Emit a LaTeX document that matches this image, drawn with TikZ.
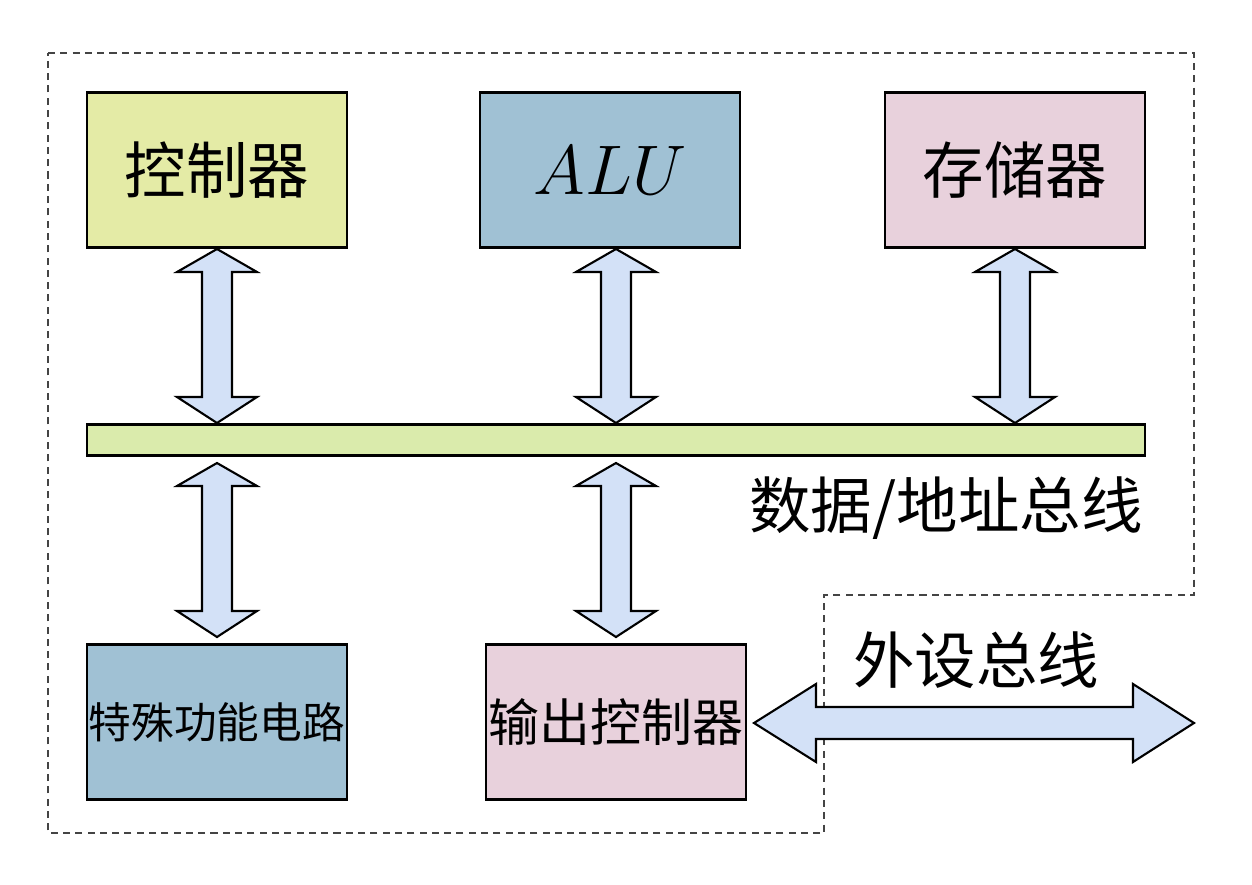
\RequirePackage{fix-cm}
\documentclass[tikz,border=0pt]{standalone}
\usepackage{fontspec}
\newfontfamily\cjk{Noto Sans CJK SC}
\usetikzlibrary{calc}
\definecolor{cyel}{HTML}{E4EBA6}
\definecolor{cblu}{HTML}{A0C1D4}
\definecolor{cpnk}{HTML}{E8D1DC}
\definecolor{cbar}{HTML}{DAEBAC}
\definecolor{carr}{HTML}{D3E1F7}
\definecolor{cdash}{HTML}{444444}
\tikzset{
  unitbox/.style={draw=black, line width=1.2pt, minimum width=260*0.02cm, minimum height=155*0.02cm, inner sep=0pt, font=\cjk},
  busarrow/.style={draw=black, line width=1.2pt, fill=carr, line join=miter},
  outline/.style={draw=cdash, dashed, dash pattern=on 4pt off 3pt, line width=0.8pt},
}
% vertical double arrow: x, ytop, ybottom
\newcommand\myvarrow[3]{%
  \draw[busarrow] (#1,#2) -- (#1+40,#2+23) -- (#1+15,#2+23) -- (#1+15,#3-26) -- (#1+40,#3-26)
    -- (#1,#3) -- (#1-40,#3-26) -- (#1-15,#3-26) -- (#1-15,#2+23) -- (#1-40,#2+23) -- cycle;}
\begin{document}
\begin{tikzpicture}[x=0.02cm,y=-0.02cm]
\useasboundingbox (0,0) rectangle (1252,885);
\draw[outline] (48,53) -- (1194,53) -- (1194,595) -- (824,595) -- (824,833) -- (48,833) -- cycle;

\node[unitbox, fill=cyel, font=\cjk\fontsize{35}{40}\selectfont] (ctrl) at (217,170) {控制器};
\node[unitbox, fill=cblu, font=\fontsize{40}{46}\selectfont] (alu) at (610,170) {$ALU$};
\node[unitbox, fill=cpnk, font=\cjk\fontsize{35}{40}\selectfont] (mem) at (1015,170) {存储器};
\node[draw=black, line width=1.2pt, fill=cbar, minimum width=1058*0.02cm, minimum height=31*0.02cm, inner sep=0pt] (bus) at (616,440) {};
\node[unitbox, fill=cblu, font=\cjk\fontsize{24.3}{30}\selectfont] (spec) at (217,722) {特殊功能电路};
\node[unitbox, fill=cpnk, font=\cjk\fontsize{29}{34}\selectfont] (io) at (616,722) {输出控制器};

\node[font=\cjk\fontsize{35}{40}\selectfont, inner sep=0pt] (buslbl) at (946,508) {数据/地址总线};
\node[font=\cjk\fontsize{35}{40}\selectfont, inner sep=0pt] (extlbl) at (976,660) {外设总线};

\myvarrow{217}{249}{423}
\myvarrow{616}{249}{423}
\myvarrow{1015}{249}{423}
\myvarrow{217}{463}{637}
\myvarrow{616}{463}{637}

\draw[busarrow] (754,723) -- (816,684) -- (816,707) -- (1133,707) -- (1133,684) -- (1194,723)
  -- (1133,762) -- (1133,739) -- (816,739) -- (816,762) -- cycle;
\end{tikzpicture}
\end{document}
